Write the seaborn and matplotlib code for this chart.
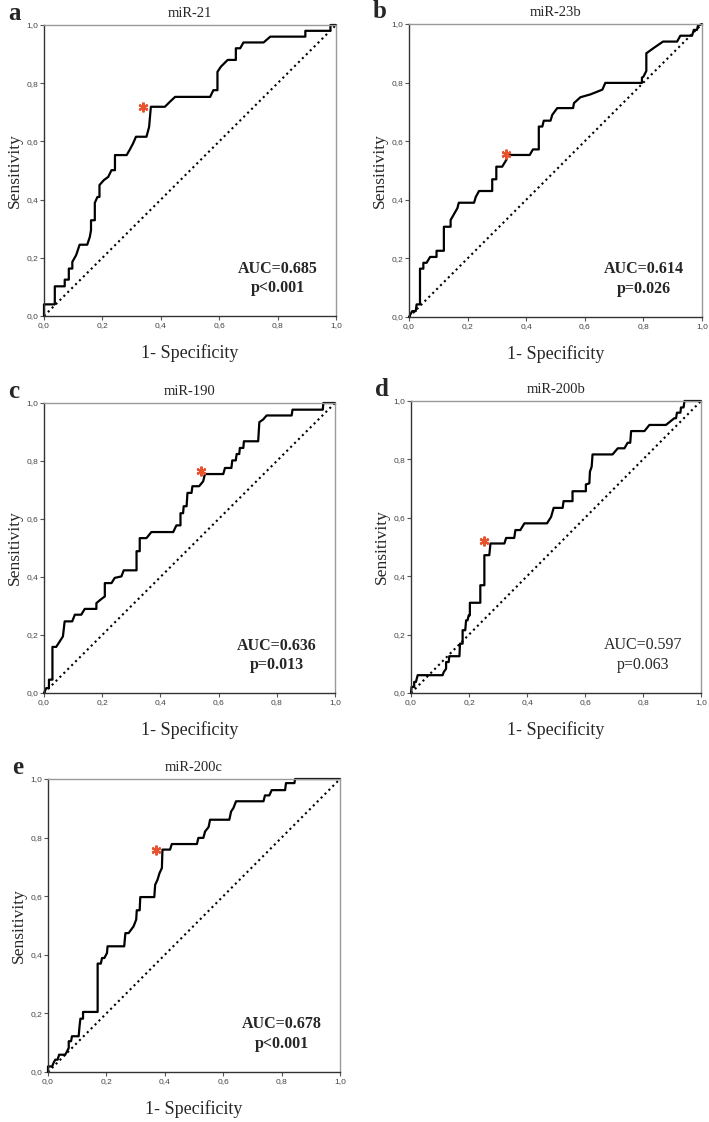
import pandas as pd
import seaborn as sns
import matplotlib.pyplot as plt

# ROC curves (1 - specificity, sensitivity)
fpr_21 = [0.0, 0.0, 0.037, 0.037, 0.071, 0.071, 0.085, 0.085, 0.097, 0.097, 0.11, 0.122, 0.148, 0.157,
          0.161, 0.161, 0.174, 0.174, 0.183, 0.19, 0.19, 0.205, 0.22, 0.231, 0.243, 0.243, 0.283, 0.294,
          0.305, 0.315, 0.351, 0.36, 0.366, 0.414, 0.431, 0.449, 0.569, 0.58, 0.594, 0.594, 0.606, 0.629,
          0.657, 0.657, 0.672, 0.683, 0.752, 0.775, 0.895, 0.895, 0.981, 0.981, 1.0]
tpr_21 = [0.0, 0.04, 0.04, 0.102, 0.102, 0.125, 0.125, 0.163, 0.163, 0.186, 0.209, 0.245, 0.245, 0.272,
          0.295, 0.329, 0.329, 0.389, 0.409, 0.409, 0.45, 0.467, 0.478, 0.501, 0.501, 0.553, 0.553, 0.572,
          0.593, 0.616, 0.616, 0.65, 0.719, 0.719, 0.736, 0.753, 0.753, 0.776, 0.776, 0.839, 0.857, 0.88,
          0.88, 0.92, 0.92, 0.94, 0.94, 0.96, 0.96, 0.98, 0.98, 1.0, 1.0]

fpr_23b = [0.0, 0.011, 0.023, 0.026, 0.0375, 0.0375, 0.049, 0.049, 0.06, 0.072, 0.094, 0.094, 0.119, 0.119,
           0.142, 0.142, 0.165, 0.17, 0.222, 0.228, 0.239, 0.284, 0.284, 0.298, 0.298, 0.318, 0.332, 0.338,
           0.412, 0.423, 0.443, 0.443, 0.455, 0.46, 0.483, 0.489, 0.506, 0.56, 0.563, 0.585, 0.62, 0.66,
           0.67, 0.795, 0.795, 0.8, 0.81, 0.81, 0.835, 0.867, 0.915, 0.926, 0.966, 0.972, 0.983, 0.986, 1.0]
tpr_23b = [0.0, 0.02, 0.02, 0.043, 0.043, 0.165, 0.165, 0.185, 0.185, 0.205, 0.205, 0.226, 0.226, 0.308,
           0.308, 0.331, 0.371, 0.39, 0.39, 0.41, 0.43, 0.43, 0.47, 0.47, 0.513, 0.513, 0.536, 0.553,
           0.553, 0.572, 0.572, 0.65, 0.65, 0.67, 0.67, 0.69, 0.713, 0.713, 0.73, 0.75, 0.76, 0.776,
           0.799, 0.799, 0.817, 0.82, 0.84, 0.9, 0.918, 0.94, 0.94, 0.96, 0.96, 0.98, 0.98, 0.994, 1.0]

fpr_190 = [0.0, 0.008, 0.017, 0.017, 0.029, 0.029, 0.042, 0.065, 0.071, 0.097, 0.106, 0.128, 0.14, 0.18,
           0.18, 0.197, 0.209, 0.209, 0.232, 0.243, 0.266, 0.274, 0.318, 0.318, 0.329, 0.329, 0.352, 0.369,
           0.444, 0.455, 0.469, 0.469, 0.478, 0.48, 0.49, 0.493, 0.507, 0.51, 0.533, 0.547, 0.553, 0.616,
           0.622, 0.644, 0.647, 0.659, 0.662, 0.671, 0.673, 0.685, 0.687, 0.736, 0.74, 0.753, 0.765, 0.851,
           0.854, 0.958, 0.96, 1.0]
tpr_190 = [0.0, 0.017, 0.017, 0.046, 0.046, 0.159, 0.159, 0.195, 0.247, 0.247, 0.27, 0.27, 0.29, 0.29,
           0.31, 0.324, 0.333, 0.379, 0.379, 0.397, 0.402, 0.423, 0.423, 0.489, 0.489, 0.534, 0.534, 0.555,
           0.555, 0.578, 0.578, 0.62, 0.62, 0.644, 0.644, 0.69, 0.69, 0.713, 0.713, 0.73, 0.755, 0.755,
           0.776, 0.776, 0.802, 0.802, 0.824, 0.824, 0.845, 0.845, 0.868, 0.868, 0.934, 0.943, 0.957, 0.957,
           0.977, 0.977, 1.0, 1.0]

fpr_200b = [0.0, 0.002, 0.011, 0.011, 0.017, 0.023, 0.109, 0.113, 0.121, 0.121, 0.13, 0.132, 0.167, 0.169,
            0.178, 0.178, 0.187, 0.19, 0.195, 0.199, 0.203, 0.203, 0.239, 0.239, 0.253, 0.253, 0.27, 0.274,
            0.322, 0.328, 0.356, 0.36, 0.377, 0.391, 0.469, 0.483, 0.492, 0.523, 0.526, 0.557, 0.557, 0.603,
            0.603, 0.615, 0.617, 0.623, 0.626, 0.695, 0.713, 0.736, 0.747, 0.756, 0.759, 0.805, 0.822, 0.879,
            0.908, 0.914, 0.917, 0.929, 0.931, 0.94, 0.943, 1.0]
tpr_200b = [0.0, 0.021, 0.021, 0.038, 0.038, 0.061, 0.061, 0.072, 0.083, 0.106, 0.106, 0.126, 0.126, 0.169,
            0.169, 0.215, 0.215, 0.249, 0.249, 0.266, 0.266, 0.309, 0.309, 0.369, 0.369, 0.472, 0.472, 0.512,
            0.512, 0.531, 0.531, 0.558, 0.558, 0.581, 0.581, 0.603, 0.634, 0.634, 0.657, 0.657, 0.691, 0.691,
            0.714, 0.718, 0.758, 0.775, 0.817, 0.817, 0.838, 0.838, 0.857, 0.857, 0.897, 0.897, 0.918, 0.918,
            0.941, 0.941, 0.96, 0.96, 0.978, 0.978, 1.0, 1.0]

fpr_200c = [0.0, 0.0, 0.014, 0.019, 0.025, 0.033, 0.038, 0.059, 0.065, 0.071, 0.071, 0.079, 0.082, 0.105,
            0.108, 0.111, 0.12, 0.12, 0.17, 0.17, 0.181, 0.185, 0.193, 0.202, 0.204, 0.261, 0.265, 0.276,
            0.293, 0.302, 0.304, 0.314, 0.316, 0.364, 0.367, 0.375, 0.382, 0.39, 0.392, 0.418, 0.424, 0.51,
            0.515, 0.532, 0.538, 0.55, 0.555, 0.621, 0.627, 0.635, 0.644, 0.738, 0.743, 0.758, 0.766, 0.812,
            0.815, 0.844, 0.846, 1.0]
tpr_200c = [0.0, 0.019, 0.019, 0.031, 0.042, 0.042, 0.059, 0.059, 0.07, 0.082, 0.105, 0.105, 0.122, 0.122,
            0.156, 0.182, 0.182, 0.205, 0.205, 0.37, 0.37, 0.389, 0.389, 0.406, 0.429, 0.429, 0.474, 0.474,
            0.497, 0.52, 0.552, 0.552, 0.597, 0.597, 0.639, 0.656, 0.679, 0.696, 0.759, 0.759, 0.778, 0.778,
            0.799, 0.799, 0.821, 0.836, 0.861, 0.861, 0.889, 0.901, 0.924, 0.924, 0.944, 0.944, 0.962, 0.962,
            0.986, 0.986, 1.0, 1.0]

# Optimal cut-off (red asterisk)
cut_x = [0.34, 0.33, 0.541, 0.251, 0.369]
cut_y = [0.717, 0.557, 0.767, 0.521, 0.759]

letters = ['a', 'b', 'c', 'd', 'e']
titles = ['miR-21', 'miR-23b', 'miR-190', 'miR-200b', 'miR-200c']
auc_text = ['AUC=0.685', 'AUC=0.614', 'AUC=0.636', 'AUC=0.597', 'AUC=0.678']
p_text = ['p<0.001', 'p=0.026', 'p=0.013', 'p=0.063', 'p<0.001']
significant = [True, True, True, False, True]
fprs = [fpr_21, fpr_23b, fpr_190, fpr_200b, fpr_200c]
tprs = [tpr_21, tpr_23b, tpr_190, tpr_200b, tpr_200c]
tick_vals = [0.0, 0.2, 0.4, 0.6, 0.8, 1.0]
tick_labels = ['0,0', '0,2', '0,4', '0,6', '0,8', '1,0']

sns.set_theme(style="ticks")
plt.rcParams['font.family'] = ['Liberation Serif', 'DejaVu Serif']

fig = plt.figure(figsize=(7.09, 11.22), dpi=100)

# axes boxes in figure pixels: left, top, right, bottom
boxes = [(44, 25, 336, 316), (409, 24, 702, 317),
         (44, 403, 335, 693), (411, 401, 701, 693),
         (48, 779, 340, 1072)]
W, H = 709, 1122

for i in range(5):
    l, t, r, b = boxes[i]
    ax = fig.add_axes([l / W, 1 - b / H, (r - l) / W, (b - t) / H])
    df = pd.DataFrame({'fpr': fprs[i], 'tpr': tprs[i]})
    sns.lineplot(x='fpr', y='tpr', data=df, sort=False, estimator=None,
                 color='black', linewidth=1.6, ax=ax, clip_on=False)
    ax.plot([0, 1], [0, 1], linestyle=':', color='black', linewidth=1.5)
    ax.plot([cut_x[i]], [cut_y[i]], marker=(6, 2, 0), markersize=7,
            markeredgewidth=1.6, color='#e8522c', linestyle='none')

    ax.set_xlim(0, 1)
    ax.set_ylim(0, 1)
    ax.set_xticks(tick_vals)
    ax.set_yticks(tick_vals)
    ax.set_xticklabels(tick_labels, family='Liberation Sans', fontsize=6, color='#444444')
    ax.set_yticklabels(tick_labels, family='Liberation Sans', fontsize=6, color='#444444')
    ax.tick_params(length=3, width=0.8, color='#555555', pad=1.2)
    for side in ['top', 'right']:
        ax.spines[side].set_color('#999999')
        ax.spines[side].set_linewidth(1.0)
    for side in ['left', 'bottom']:
        ax.spines[side].set_color('#333333')
        ax.spines[side].set_linewidth(1.0)

    ax.set_xlabel('1- Specificity', fontsize=13, labelpad=11)
    ax.set_ylabel('Sensitivity', fontsize=12.5)
    ax.yaxis.set_label_coords(-21 / (r - l), 0.5)
    ax.set_title(titles[i], fontsize=10.5, pad=6)

    weight = 'bold' if significant[i] else 'normal'
    ax.text(0.80, 0.163, auc_text[i], fontsize=11.5, fontweight=weight,
            ha='center', va='center', transform=ax.transAxes)
    ax.text(0.80, 0.097, p_text[i], fontsize=11.5, fontweight=weight,
            ha='center', va='center', transform=ax.transAxes)

    fig.text((l - 36) / W, 1 - (t - 12) / H, letters[i], fontsize=18,
             fontweight='bold', ha='left', va='center')

plt.savefig('out.png', dpi=100)
